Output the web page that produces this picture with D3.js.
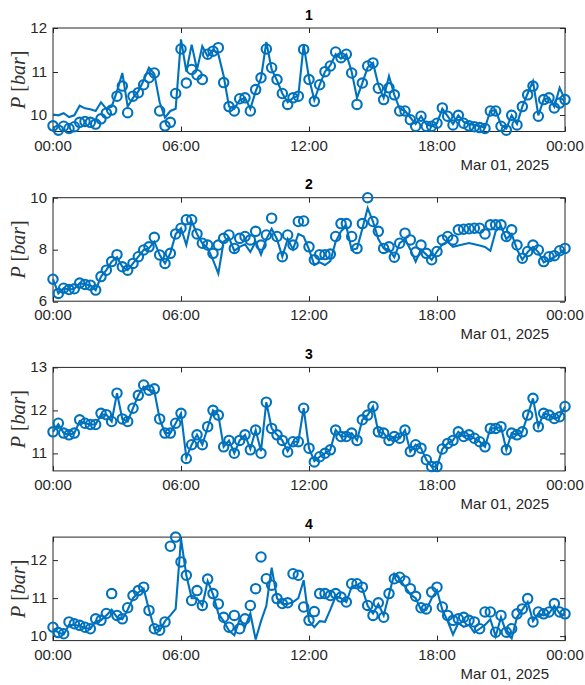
<!DOCTYPE html>
<html>
<head>
<meta charset="utf-8">
<script src="https://cdn.jsdelivr.net/npm/d3@7/dist/d3.min.js"></script>
<style>
    body { margin: 0; background: #ffffff; }
</style>
</head>
<body>
<div id="chart"></div>
<script>
// four pressure traces, one sample every 15 minutes on Mar 01, 2025
var panelTitles = ["1", "2", "3", "4"];
var yLimits = [[9.63, 12], [6, 10], [10.59, 13], [9.89, 12.6]];
var yTickValues = [[10, 11, 12], [6, 8, 10], [11, 12, 13], [10, 11, 12]];
var dayStart = Date.UTC(2025, 2, 1, 0, 0);
var dayEnd = Date.UTC(2025, 2, 2, 0, 0);
var sampleMinutes = 15;
var dateLabel = "Mar 01, 2025";
var yLabelMain = "P";
var yLabelUnit = "bar";

// circles (measured) and line (trace) for each panel, 00:00 .. 24:00
var p1Markers = [
    9.76, 9.66, 9.75, 9.70, 9.74, 9.84, 9.86, 9.84,
    9.80, 9.92, 10.05, 10.12, 10.44, 10.67, 10.06, 10.44,
    10.52, 10.70, 10.86, 10.97, 10.10, 9.76, 9.84, 10.50,
    11.52, 10.74, 11.05, 10.93, 10.82, 11.40, 11.47, 11.55,
    10.75, 10.20, 10.10, 10.38, 10.40, 10.10, 10.59, 10.86,
    11.52, 11.09, 10.82, 10.50, 10.25, 10.40, 10.44, 11.51,
    10.82, 10.32, 10.70, 11.00, 11.13, 11.45, 11.32, 11.40,
    10.97, 10.25, 10.74, 11.13, 11.20, 10.62, 10.36, 10.63,
    10.47, 10.10, 10.10, 9.90, 9.75, 9.98, 9.75, 9.75,
    9.82, 10.17, 9.98, 9.78, 10.00, 9.82, 9.76, 9.74,
    9.72, 9.70, 10.10, 10.10, 9.75, 9.66, 10.00, 9.78,
    10.20, 10.47, 10.67, 9.98, 10.36, 10.40, 10.17, 10.28,
    10.36
];
var p1Line = [
    10.02, 10.00, 10.05, 9.96, 10.00, 10.22, 10.16, 10.14,
    10.10, 10.30, 10.15, 10.20, 10.55, 10.97, 10.20, 10.40,
    10.55, 10.80, 11.09, 10.95, 10.30, 9.95, 10.10, 10.15,
    11.74, 11.00, 11.62, 11.05, 11.58, 11.35, 11.50, 11.40,
    10.90, 10.20, 10.15, 10.35, 10.40, 10.15, 10.55, 10.85,
    11.68, 11.05, 10.80, 10.50, 10.30, 10.40, 10.45, 11.62,
    10.85, 10.35, 10.70, 11.00, 11.15, 11.40, 11.30, 11.40,
    11.00, 10.40, 10.74, 11.10, 11.20, 10.70, 10.40, 10.90,
    10.47, 10.15, 10.10, 9.95, 9.80, 9.98, 9.80, 9.75,
    9.82, 10.15, 9.98, 9.80, 10.00, 9.85, 9.80, 9.78,
    9.75, 9.72, 10.10, 10.12, 9.78, 9.70, 10.00, 9.80,
    10.20, 10.50, 10.78, 10.00, 10.36, 10.40, 10.20, 10.63,
    10.36
];
var p2Markers = [
    6.85, 6.30, 6.50, 6.45, 6.48, 6.70, 6.65, 6.62,
    6.43, 6.95, 7.20, 7.53, 7.80, 7.33, 7.20, 7.46,
    7.72, 7.98, 8.10, 8.47, 7.79, 7.46, 7.85, 8.60,
    8.82, 9.15, 9.15, 8.60, 8.24, 8.17, 7.85, 8.17,
    8.43, 8.56, 8.04, 8.43, 8.50, 8.37, 8.70, 8.17,
    8.56, 9.21, 8.50, 7.72, 8.56, 8.17, 9.08, 9.10,
    8.10, 7.60, 7.80, 7.80, 7.82, 8.50, 9.00, 9.00,
    8.50, 8.04, 9.00, 10.00, 9.08, 8.70, 8.04, 8.10,
    7.70, 8.24, 8.63, 8.37, 7.90, 8.17, 7.85, 7.60,
    7.92, 8.37, 8.50, 8.37, 8.76, 8.78, 8.80, 8.82,
    8.82, 8.60, 8.95, 8.95, 8.95, 8.50, 8.76, 8.17,
    7.66, 7.92, 8.17, 7.98, 7.53, 7.72, 7.76, 7.95,
    8.04
];
var p2Line = [
    6.85, 6.30, 6.50, 6.45, 6.48, 6.70, 6.65, 6.62,
    6.43, 6.95, 7.20, 7.53, 7.70, 7.33, 7.20, 7.46,
    7.72, 7.98, 8.05, 8.30, 7.79, 7.46, 7.85, 8.60,
    8.82, 8.17, 9.10, 8.60, 8.24, 8.05, 7.60, 7.07,
    8.30, 8.45, 7.95, 8.10, 8.20, 7.90, 8.30, 7.80,
    8.40, 8.80, 8.40, 7.72, 8.40, 8.00, 8.60, 8.50,
    8.00, 7.40, 7.50, 7.40, 7.55, 8.30, 8.70, 8.90,
    7.98, 8.04, 8.80, 9.60, 9.08, 8.40, 8.04, 8.00,
    7.70, 8.24, 8.40, 8.00, 7.53, 8.00, 7.80, 7.60,
    7.92, 8.20, 8.30, 8.10, 8.15, 8.20, 8.25, 8.20,
    8.15, 8.10, 7.95, 8.70, 8.90, 8.40, 8.60, 8.00,
    7.60, 7.90, 8.10, 7.90, 7.50, 7.60, 7.70, 7.85,
    8.00
];
var p3Markers = [
    11.50, 11.70, 11.47, 11.43, 11.47, 11.78, 11.70, 11.67,
    11.67, 11.93, 11.90, 11.74, 12.40, 11.80, 11.74, 12.05,
    12.35, 12.59, 12.47, 12.50, 11.80, 11.47, 11.47, 11.70,
    11.93, 10.88, 11.20, 11.43, 11.20, 11.62, 12.00, 11.89,
    11.15, 11.30, 11.00, 11.30, 11.43, 11.08, 11.54, 11.00,
    12.19, 11.58, 11.43, 11.30, 11.03, 11.27, 11.27, 12.05,
    11.12, 10.80, 10.92, 11.00, 11.08, 11.54, 11.39, 11.39,
    11.47, 11.30, 11.78, 11.89, 12.09, 11.50, 11.47, 11.30,
    11.39, 11.35, 11.54, 11.04, 11.20, 11.12, 10.85, 10.69,
    10.69, 11.10, 11.23, 11.30, 11.50, 11.39, 11.43, 11.35,
    11.27, 11.15, 11.58, 11.58, 11.62, 11.08, 11.47, 11.43,
    11.50, 11.89, 12.28, 11.62, 11.93, 11.89, 11.81, 11.85,
    12.09
];
var p3Line = [
    11.50, 11.68, 11.47, 11.43, 11.47, 11.75, 11.70, 11.67,
    11.67, 11.90, 11.90, 11.74, 12.40, 11.80, 11.74, 12.05,
    12.35, 12.55, 12.47, 12.45, 11.80, 11.47, 11.47, 11.70,
    11.93, 10.90, 11.20, 11.43, 11.20, 11.60, 12.00, 11.89,
    11.15, 11.30, 11.00, 11.30, 11.43, 11.10, 11.54, 11.05,
    12.19, 11.58, 11.43, 11.30, 11.05, 11.27, 11.27, 12.05,
    11.12, 10.82, 10.92, 11.00, 11.08, 11.54, 11.39, 11.39,
    11.47, 11.30, 11.78, 11.89, 12.09, 11.50, 11.47, 11.30,
    11.39, 11.35, 11.54, 11.04, 11.20, 11.12, 10.85, 10.69,
    10.69, 11.10, 11.23, 11.30, 11.50, 11.39, 11.43, 11.35,
    11.27, 11.15, 11.58, 11.58, 11.62, 11.08, 11.47, 11.43,
    11.50, 11.89, 12.28, 11.62, 11.93, 11.89, 11.81, 11.85,
    12.09
];
var p4Markers = [
    10.24, 10.10, 10.07, 10.38, 10.33, 10.29, 10.24, 10.20,
    10.46, 10.42, 10.60, 11.12, 10.55, 10.46, 10.75, 11.07,
    11.20, 11.29, 10.68, 10.20, 10.16, 10.38, 12.36, 12.60,
    11.95, 11.60, 10.94, 11.20, 10.81, 11.50, 11.12, 10.85,
    10.50, 10.24, 10.55, 10.20, 10.46, 10.81, 11.25, 12.08,
    11.51, 11.34, 10.99, 10.86, 10.88, 11.64, 11.60, 10.77,
    10.42, 10.65, 11.12, 11.12, 11.07, 11.12, 11.03, 10.90,
    11.38, 11.38, 11.29, 10.81, 10.55, 10.88, 10.50, 11.12,
    11.51, 11.55, 11.45, 11.25, 11.05, 10.75, 10.72, 11.16,
    11.29, 10.77, 10.55, 10.42, 10.46, 10.50, 10.42, 10.38,
    10.20, 10.64, 10.64, 10.11, 10.55, 10.11, 10.20, 10.59,
    10.72, 10.99, 10.38, 10.64, 10.59, 10.64, 10.86, 10.64,
    10.59
];
var p4Line = [
    10.20, 10.10, 10.05, 10.30, 10.30, 10.28, 10.22, 10.20,
    10.40, 10.42, 10.55, 10.70, 10.50, 10.45, 10.70, 11.00,
    11.15, 11.25, 10.70, 10.20, 10.15, 10.40, 10.55, 10.72,
    12.55, 11.60, 11.00, 11.00, 10.80, 11.45, 11.10, 10.60,
    10.40, 10.15, 10.03, 10.45, 10.25, 10.60, 9.92, 10.40,
    10.80, 11.80, 11.00, 10.85, 10.85, 10.90, 11.00, 11.47,
    10.40, 10.24, 10.40, 10.38, 10.70, 11.05, 11.00, 10.90,
    11.30, 11.35, 11.25, 10.80, 10.60, 10.85, 10.55, 11.10,
    11.64, 11.50, 11.30, 11.10, 11.00, 10.70, 10.70, 11.00,
    11.20, 10.70, 10.40, 10.05, 10.35, 10.25, 10.30, 10.10,
    10.20, 10.30, 10.45, 10.00, 10.50, 10.10, 9.95, 10.50,
    10.70, 10.90, 10.40, 10.60, 10.55, 10.60, 10.80, 10.60,
    10.55
];

var markerSeries = [p1Markers, p2Markers, p3Markers, p4Markers];
var lineSeries = [p1Line, p2Line, p3Line, p4Line];

var blue = "#0072BD";
var axisColor = "#262626";

var margin = { left: 53, right: 20 },
    width = 512,
    plotHeight = 103.5,
    firstTop = 28,
    panelStep = 169.7;

var svg = d3.select("#chart").append("svg")
    .attr("width", 585)
    .attr("height", 685)
    .style("font-family", "'Liberation Sans', Arial, sans-serif");

var x = d3.scaleUtc()
    .domain([new Date(dayStart), new Date(dayEnd)])
    .range([0, width]);

var xTicks = x.ticks(d3.utcHour.every(6));
var fmt = d3.utcFormat("%H:%M");

function timeAt(i) {
    return new Date(dayStart + i * sampleMinutes * 60000);
}

panelTitles.forEach(function (title, p) {
    var top = firstTop + p * panelStep;
    var g = svg.append("g")
        .attr("transform", "translate(" + margin.left + "," + top + ")");

    var y = d3.scaleLinear()
        .domain(yLimits[p])
        .range([plotHeight, 0]);

    // box
    g.append("rect")
        .attr("x", 0).attr("y", 0)
        .attr("width", width).attr("height", plotHeight)
        .attr("fill", "none")
        .attr("stroke", axisColor)
        .attr("stroke-width", 1);

    // x ticks inside, top and bottom
    xTicks.forEach(function (t) {
        var xp = Math.round(x(t)) + 0.5;
        g.append("line").attr("x1", xp).attr("x2", xp)
            .attr("y1", plotHeight).attr("y2", plotHeight - 5)
            .attr("stroke", axisColor);
        g.append("line").attr("x1", xp).attr("x2", xp)
            .attr("y1", 0).attr("y2", 5)
            .attr("stroke", axisColor);
        g.append("text")
            .attr("x", x(t))
            .attr("y", plotHeight + 19)
            .attr("text-anchor", "middle")
            .style("font-size", "15px")
            .style("fill", axisColor)
            .text(fmt(t));
    });

    // y ticks inside, left and right
    yTickValues[p].forEach(function (v) {
        var yp = Math.round(y(v)) + 0.5;
        g.append("line").attr("x1", 0).attr("x2", 5)
            .attr("y1", yp).attr("y2", yp)
            .attr("stroke", axisColor);
        g.append("line").attr("x1", width - 5).attr("x2", width)
            .attr("y1", yp).attr("y2", yp)
            .attr("stroke", axisColor);
        g.append("text")
            .attr("x", -6)
            .attr("y", y(v))
            .attr("dy", "0.33em")
            .attr("text-anchor", "end")
            .style("font-size", "15px")
            .style("fill", axisColor)
            .text(v);
    });

    // date under the axis
    g.append("text")
        .attr("x", width - 16)
        .attr("y", plotHeight + 38)
        .attr("text-anchor", "end")
        .style("font-size", "15px")
        .style("fill", axisColor)
        .text(dateLabel);

    // title
    g.append("text")
        .attr("x", width / 2)
        .attr("y", -8.5)
        .attr("text-anchor", "middle")
        .style("font-size", "14px")
        .style("font-weight", "bold")
        .style("fill", "#000")
        .text(title);

    // y label, LaTeX style
    var yl = g.append("text")
        .attr("transform", "translate(-28," + (plotHeight / 2) + ") rotate(-90)")
        .attr("text-anchor", "middle")
        .style("font-family", "'Liberation Serif', 'DejaVu Serif', serif")
        .style("font-size", "20px")
        .style("fill", "#333333");
    yl.append("tspan").style("font-style", "italic").text(yLabelMain);
    yl.append("tspan").text(" [");
    yl.append("tspan").style("font-style", "italic").text(yLabelUnit);
    yl.append("tspan").text("]");

    var line = d3.line()
        .x(function (d, i) { return x(timeAt(i)); })
        .y(function (d) { return y(d); });

    g.append("path")
        .datum(lineSeries[p])
        .attr("fill", "none")
        .attr("stroke", blue)
        .attr("stroke-width", 2.1)
        .attr("d", line);

    g.selectAll(".marker")
        .data(markerSeries[p])
        .enter().append("circle")
        .attr("class", "marker")
        .attr("cx", function (d, i) { return x(timeAt(i)); })
        .attr("cy", function (d) { return y(d); })
        .attr("r", 4.7)
        .attr("fill", "none")
        .attr("stroke", blue)
        .attr("stroke-width", 2.1);
});
</script>
</body>
</html>
